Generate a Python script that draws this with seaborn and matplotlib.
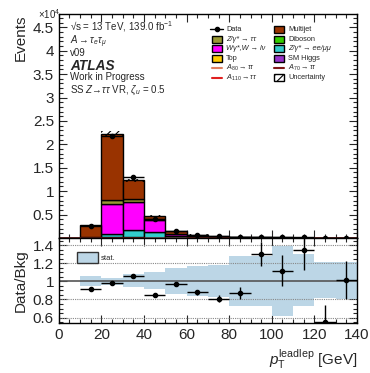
import numpy as np
import pandas as pd
import matplotlib
matplotlib.use("Agg")
import matplotlib.pyplot as plt
from matplotlib.patches import Patch, Rectangle
from matplotlib.ticker import MultipleLocator
import seaborn as sns

# bin edges / centres (GeV)
edges = np.arange(0, 150, 10)
centres = edges[:-1] + 5

# background yields (x 10^4 events)
multijet = [0.0, 0.255, 1.43, 0.40, 0.07, 0.05, 0.03, 0.02, 0.012, 0.008, 0.006, 0.004, 0.003, 0.002]
ztautau  = [0.0, 0.003, 0.08, 0.06, 0.02, 0.008, 0.004, 0.003, 0.002, 0.0015, 0.001, 0.001, 0.0008, 0.0005]
wjets    = [0.0, 0.003, 0.64, 0.60, 0.25, 0.04, 0.02, 0.012, 0.008, 0.005, 0.003, 0.002, 0.0015, 0.001]
zll      = [0.0, 0.002, 0.07, 0.16, 0.12, 0.04, 0.01, 0.005, 0.003, 0.002, 0.001, 0.001, 0.0005, 0.0005]
diboson  = [0.0, 0.001, 0.005, 0.005, 0.004, 0.002, 0.002, 0.001, 0.001, 0.001, 0.0005, 0.0005, 0.0005, 0.0003]
top      = [0.0, 0.002, 0.004, 0.005, 0.004, 0.003, 0.002, 0.002, 0.001, 0.001, 0.0005, 0.0005, 0.0003, 0.0003]
higgs    = [0.0, 0.001, 0.002, 0.002, 0.001, 0.001, 0.0005, 0.0005, 0.0003, 0.0002, 0.0002, 0.0001, 0.0001, 0.0001]

# relative uncertainty on the total background (hatched band)
unc_rel = [0, 0.06, 0.02, 0.03, 0.05, 0.08, 0.1, 0.1, 0.15, 0.15, 0.2, 0.15, 0.1, 0.1]

# signals (tiny, near zero)
a80  = [0.004, 0.004, 0.004, 0.004, 0.004, 0.004, 0.004, 0.004, 0.004, 0.004, 0.004, 0.004, 0.004, 0.004]
a70  = [0.002, 0.002, 0.002, 0.002, 0.002, 0.002, 0.002, 0.002, 0.002, 0.002, 0.002, 0.002, 0.002, 0.002]
a110 = [0.003, 0.003, 0.003, 0.003, 0.003, 0.003, 0.003, 0.003, 0.003, 0.003, 0.003, 0.003, 0.003, 0.003]

# data / bkg ratio and errors (bins 10-140)
ratio     = [np.nan, 0.92, 0.98, 1.06, 0.85, 0.97, 0.88, 0.81, 0.87, 1.30, 1.12, 1.35, 0.55, 1.01]
ratio_err = [0, 0.01, 0.01, 0.012, 0.015, 0.02, 0.025, 0.035, 0.067, 0.13, 0.17, 0.22, 0.19, 0.21]

# stat band (relative)
stat_up   = [0, 1.063, 1.04, 1.085, 1.107, 1.15, 1.17, 1.18, 1.28, 1.28, 1.39, 1.30, 1.21, 1.21]
stat_down = [0, 0.95, 0.96, 0.94, 0.92, 0.86, 0.84, 0.83, 0.73, 0.73, 0.615, 0.73, 0.82, 0.81]

samples = ["Multijet", "Ztautau", "W", "Zll", "Diboson", "Top", "Higgs"]
yields = [multijet, ztautau, wjets, zll, diboson, top, higgs]
colors = {"Multijet": "#993300", "Ztautau": "#999933", "W": "#ff00ff", "Zll": "#33cccc",
          "Diboson": "#33cc00", "Top": "#ffcc00", "Higgs": "#9933cc"}
sig_colors = {"A80": "#e08060", "A70": "#801818", "A110": "#e02020"}

rows = []
for name, vals in zip(samples, yields):
    for c, v in zip(centres, vals):
        rows.append({"pt": float(c), "sample": name, "w": v})
df = pd.DataFrame(rows)

total = np.sum(np.array(yields), axis=0)
ratio_a = np.array(ratio)
data = ratio_a * total
data_err = np.array(ratio_err) * total
up = np.array(stat_up)
down = np.array(stat_down)
unc = np.array(unc_rel) * total
has = total > 0

sns.set_theme(style="ticks")
plt.rcParams["font.family"] = ["Liberation Sans", "DejaVu Sans"]
plt.rcParams["mathtext.fontset"] = "custom"
plt.rcParams["mathtext.rm"] = "Liberation Sans"
plt.rcParams["mathtext.it"] = "Liberation Sans:italic"
plt.rcParams["mathtext.bf"] = "Liberation Sans:bold"
plt.rcParams["hatch.linewidth"] = 0.8

fig = plt.figure(figsize=(3.7, 3.73), dpi=100)
ax = fig.add_axes([0.159, 0.362, 0.806, 0.600])
rax = fig.add_axes([0.159, 0.134, 0.806, 0.228], sharex=ax)

# stacked backgrounds
sns.histplot(data=df, x="pt", weights="w", hue="sample", hue_order=samples,
             bins=[float(e) for e in edges], multiple="stack", palette=colors, alpha=1,
             edgecolor="black", linewidth=1.0, legend=False, ax=ax)

# uncertainty hatch
ax.bar(centres[has], 2 * unc[has], bottom=(total - unc)[has],
       width=10, fill=False, hatch="////", linewidth=0, edgecolor="black")

# signals
ax.stairs(a80, edges, color=sig_colors["A80"], lw=1)
ax.stairs(a70, edges, color=sig_colors["A70"], lw=1)
ax.stairs(a110, edges, color=sig_colors["A110"], lw=1)

# data
ax.errorbar(centres, data, yerr=data_err, xerr=5, fmt="o", color="black", ms=3, lw=1,
            capsize=0)

ax.set_xlim(0, 140)
ax.set_ylim(0, 4.78)
ax.set_yticks([0.5, 1, 1.5, 2, 2.5, 3, 3.5, 4, 4.5])
ax.set_yticklabels(["0.5", "1", "1.5", "2", "2.5", "3", "3.5", "4", "4.5"])
ax.set_ylabel("Events", loc="top", fontsize=11)
ax.set_xlabel("")
ax.tick_params(labelbottom=False)
ax.text(-0.07, 1.0, r"$\times10^{4}$", transform=ax.transAxes, fontsize=7, va="center")

# annotations
tx = 0.037
fs = 7
ax.text(tx, 0.925, "\u221As = 13 TeV, 139.0 fb$^{-1}$", transform=ax.transAxes, fontsize=fs)
ax.text(tx, 0.868, r"$A \rightarrow \tau_e\tau_\mu$", transform=ax.transAxes, fontsize=fs)
ax.text(tx, 0.812, "v09", transform=ax.transAxes, fontsize=fs)
ax.text(tx, 0.752, "ATLAS", transform=ax.transAxes, fontsize=9.8, fontweight="bold", style="italic")
ax.text(tx, 0.705, "Work in Progress", transform=ax.transAxes, fontsize=fs)
ax.text(tx, 0.650, r"SS $Z\!\rightarrow\!\tau\tau$ VR, $\zeta_u$ = 0.5", transform=ax.transAxes, fontsize=fs)

# legend, drawn entry by entry so rows stay evenly spaced (ROOT style)
leg_col1 = [("data", None, "Data", "normal"),
            ("box", colors["Ztautau"], "Z/\u03b3* \u2192 \u03c4\u03c4", "italic"),
            ("box", colors["W"], "W\u03b3*,W \u2192 l\u03bd", "italic"),
            ("box", colors["Top"], "Top", "normal"),
            ("line", sig_colors["A80"], r"$A_{80} \rightarrow \tau\tau$", "normal"),
            ("line", sig_colors["A110"], r"$A_{110} \rightarrow \tau\tau$", "normal")]
leg_col2 = [("box", colors["Multijet"], "Multijet", "normal"),
            ("box", colors["Diboson"], "Diboson", "normal"),
            ("box", colors["Zll"], "Z/\u03b3* \u2192 ee/\u03bc\u03bc", "italic"),
            ("box", colors["Higgs"], "SM Higgs", "normal"),
            ("line", sig_colors["A70"], r"$A_{70} \rightarrow \tau\tau$", "normal"),
            ("hatch", None, "Uncertainty", "normal")]

def to_ax(px, py):
    return (px - 59) / 298, (238 - py) / 224

for col_x, entries in [(212, leg_col1), (274, leg_col2)]:
    for i, (kind, col, lab, sty) in enumerate(entries):
        py = 29.3 + i * 9.7
        x0, yc = to_ax(col_x, py)
        bw, bh = 10 / 298, 7 / 224
        if kind == "box":
            ax.add_patch(Rectangle((x0, yc - bh / 2), bw, bh, transform=ax.transAxes,
                                   facecolor=col, edgecolor="black", lw=1.0, clip_on=False))
        elif kind == "hatch":
            ax.add_patch(Rectangle((x0, yc - bh / 2), bw, bh, transform=ax.transAxes,
                                   facecolor="white", edgecolor="black", hatch="////",
                                   lw=1.0, clip_on=False))
        elif kind == "line":
            ax.plot([x0, x0 + bw], [yc, yc], transform=ax.transAxes, color=col, lw=1.5)
        else:
            ax.plot([x0 - 0.005, x0 + bw + 0.005], [yc, yc], transform=ax.transAxes,
                    color="black", lw=1)
            ax.plot([x0 + bw / 2], [yc], transform=ax.transAxes, marker="o", ms=3,
                    color="black")
        ax.text(x0 + bw + 4 / 298, yc, lab, transform=ax.transAxes, fontsize=5.3,
                va="center", ha="left", style=sty)

# ratio panel
rax.bar(centres[has], (up - down)[has], bottom=down[has], width=10,
        color="#bcd6e6", linewidth=0)
for yv in [0.6, 0.8, 1.2, 1.4]:
    rax.axhline(yv, color="#888888", lw=0.8, ls=(0, (1, 1)))
rax.axhline(1.0, color="#555555", lw=1.2)
rax.errorbar(centres, ratio_a, yerr=ratio_err, xerr=5, fmt="o", color="black", ms=3, lw=1,
             capsize=0)
rax.set_ylim(0.54, 1.48)
rax.set_yticks([0.6, 0.8, 1.0, 1.2, 1.4])
rax.set_yticklabels(["0.6", "0.8", "1", "1.2", "1.4"])
rax.xaxis.set_major_locator(MultipleLocator(20))
rax.set_ylabel("Data/Bkg", fontsize=11)
rax.set_xlabel(r"$p_{\mathrm{T}}^{\mathrm{leadlep}}$ [GeV]", loc="right", fontsize=11)
rax.legend([Patch(facecolor="#bcd6e6", edgecolor="#333333")], ["stat."], loc="upper left",
           bbox_to_anchor=(0.05, 0.87), fontsize=5.5, frameon=False, handlelength=2.8,
           handleheight=1.8, handletextpad=0.4, borderaxespad=0)

for a in (ax, rax):
    a.tick_params(which="both", direction="in", top=True, right=True, labelsize=11, width=0.8)
    a.tick_params(which="major", length=6)
    a.tick_params(which="minor", length=3)
    for s in a.spines.values():
        s.set_linewidth(1.0)
        s.set_color("black")
ax.xaxis.set_minor_locator(MultipleLocator(5))
ax.yaxis.set_minor_locator(MultipleLocator(0.1))
rax.yaxis.set_minor_locator(MultipleLocator(0.05))

fig.savefig("out.png", dpi=100)
